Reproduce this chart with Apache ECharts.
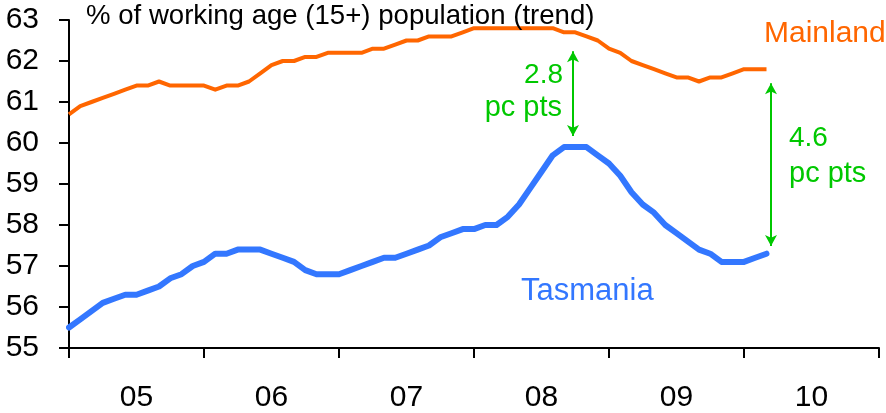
<!DOCTYPE html>
<html>
<head>
<meta charset="utf-8">
<script src="https://cdn.jsdelivr.net/npm/echarts@6/dist/echarts.min.js"></script>
<style>
html,body{margin:0;padding:0;background:#fff;}
#c{width:886px;height:413px;}
</style>
</head>
<body>
<div id="c"></div>
<script>
// Year labels (centred between January ticks)
const yearLabels = ['05', '06', '07', '08', '09', '10'];
// Monthly trend values, Jan 2005 .. Mar 2010
const mainland = [
  60.7, 60.9, 61.0, 61.1, 61.2, 61.3, 61.4, 61.4, 61.5, 61.4, 61.4, 61.4,
  61.4, 61.3, 61.4, 61.4, 61.5, 61.7, 61.9, 62.0, 62.0, 62.1, 62.1, 62.2,
  62.2, 62.2, 62.2, 62.3, 62.3, 62.4, 62.5, 62.5, 62.6, 62.6, 62.6, 62.7,
  62.8, 62.8, 62.8, 62.8, 62.8, 62.8, 62.8, 62.8, 62.7, 62.7, 62.6, 62.5,
  62.3, 62.2, 62.0, 61.9, 61.8, 61.7, 61.6, 61.6, 61.5, 61.6, 61.6, 61.7,
  61.8, 61.8, 61.8
];
const tasmania = [
  55.5, 55.7, 55.9, 56.1, 56.2, 56.3, 56.3, 56.4, 56.5, 56.7, 56.8, 57.0,
  57.1, 57.3, 57.3, 57.4, 57.4, 57.4, 57.3, 57.2, 57.1, 56.9, 56.8, 56.8,
  56.8, 56.9, 57.0, 57.1, 57.2, 57.2, 57.3, 57.4, 57.5, 57.7, 57.8, 57.9,
  57.9, 58.0, 58.0, 58.2, 58.5, 58.9, 59.3, 59.7, 59.9, 59.9, 59.9, 59.7,
  59.5, 59.2, 58.8, 58.5, 58.3, 58.0, 57.8, 57.6, 57.4, 57.3, 57.1, 57.1,
  57.1, 57.2, 57.3
];
// Gap arrows: [monthIndex, fromValue, toValue]
const gapArrows = [
  [44.8, 62.24, 60.17],
  [62.4, 61.46, 57.49]
];
const yTicks = {min: 55, max: 63, step: 1};
const xMonths = {min: 0, max: 72, step: 12};

const green = '#00c800';
const font = 'Liberation Sans, Arial, sans-serif';

const toPairs = arr => arr.map((v, i) => [i, v]);

const chart = echarts.init(document.getElementById('c'), null, {renderer: 'canvas'});
chart.setOption({
  animation: false,
  backgroundColor: '#fff',
  title: {
    text: '% of working age (15+) population (trend)',
    left: 86, top: 2, padding: 0,
    textStyle: {fontFamily: font, fontSize: 27.6, fontWeight: 'normal', color: '#000'}
  },
  grid: {left: 69, right: 7, top: 20, bottom: 64},
  xAxis: [{
    type: 'value', min: xMonths.min, max: xMonths.max, interval: xMonths.step,
    position: 'bottom',
    axisLine: {show: true, lineStyle: {color: '#000', width: 2}},
    axisTick: {show: true, length: 10, lineStyle: {color: '#000', width: 2}},
    axisLabel: {show: false},
    splitLine: {show: false}
  }, {
    type: 'category', data: yearLabels, boundaryGap: true,
    position: 'bottom', offset: 0,
    axisLine: {show: false}, axisTick: {show: false}, splitLine: {show: false},
    axisLabel: {fontFamily: font, fontSize: 30, color: '#000', margin: 35}
  }],
  yAxis: {
    type: 'value', min: yTicks.min, max: yTicks.max, interval: yTicks.step,
    axisLine: {show: true, lineStyle: {color: '#000', width: 2}},
    axisTick: {show: true, length: 10, lineStyle: {color: '#000', width: 2}},
    axisLabel: {fontFamily: font, fontSize: 30, color: '#000', margin: 30},
    splitLine: {show: false}
  },
  series: [{
    name: 'Mainland', type: 'line', xAxisIndex: 0,
    data: toPairs(mainland), showSymbol: false, symbol: 'none',
    lineStyle: {color: '#ff6600', width: 4, join: 'round'}
  }, {
    name: 'Tasmania', type: 'line', xAxisIndex: 0,
    data: toPairs(tasmania), showSymbol: false, symbol: 'none',
    lineStyle: {color: '#3377ff', width: 6, cap: 'round', join: 'round'}
  }, {
    name: 'gaps', type: 'line', xAxisIndex: 0, data: [],
    markLine: {
      silent: true, animation: false,
      symbol: ['arrow', 'arrow'], symbolSize: [9, 11],
      lineStyle: {color: green, width: 2, type: 'solid'},
      label: {show: false},
      data: gapArrows.map(a => [{coord: [a[0], a[1]]}, {coord: [a[0], a[2]]}])
    }
  }],
  graphic: [
    {type: 'text', left: 764, top: 19, style: {text: 'Mainland', fill: '#ff6600', font: '30px ' + font}},
    {type: 'text', left: 521, top: 276, style: {text: 'Tasmania', fill: '#3377ff', font: '31px ' + font}},
    {type: 'text', right: 886 - 563, top: 61, style: {text: '2.8', fill: green, font: '28px ' + font}},
    {type: 'text', right: 886 - 562, top: 93, style: {text: 'pc pts', fill: green, font: '29px ' + font}},
    {type: 'text', left: 789, top: 124, style: {text: '4.6', fill: green, font: '28px ' + font}},
    {type: 'text', left: 789, top: 159, style: {text: 'pc pts', fill: green, font: '29px ' + font}}
  ]
});
</script>
</body>
</html>
